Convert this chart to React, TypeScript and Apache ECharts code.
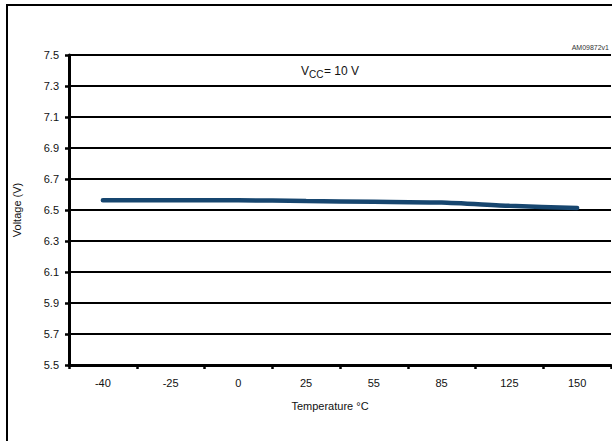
import React, { useEffect, useRef } from "react";
import * as echarts from "echarts";

const categories = ["-40", "-25", "0", "25", "55", "85", "125", "150"];
const voltage = [6.563, 6.563, 6.563, 6.558, 6.553, 6.548, 6.527, 6.513];
const yMin = 5.5;
const yMax = 7.5;
const yStep = 0.2;

const FONT = "'Liberation Sans', Arial, sans-serif";

export default function App() {
  const ref = useRef<HTMLDivElement>(null);
  useEffect(() => {
    if (!ref.current) return;
    const chart = echarts.init(ref.current, null, { renderer: "svg" });
    chart.setOption({
      animation: false,
      backgroundColor: "#fff",
      textStyle: { fontFamily: FONT },
      grid: { left: 69, right: 1, top: 55, bottom: 76, containLabel: false },
      xAxis: {
        type: "category",
        data: categories,
        boundaryGap: true,
        name: "Temperature °C",
        nameLocation: "middle",
        nameGap: 35,
        nameTextStyle: { fontSize: 11, color: "#111", fontFamily: FONT, padding: [0, 20, 0, 0] },
        axisLine: { show: true, lineStyle: { color: "#000", width: 3 } },
        axisTick: { show: true, inside: false, length: 4, lineStyle: { color: "#000", width: 2.5 } },
        axisLabel: { fontSize: 11, color: "#111", margin: 12, fontFamily: FONT },
        splitLine: { show: false },
      },
      yAxis: {
        type: "value",
        min: yMin,
        max: yMax,
        interval: yStep,
        name: "Voltage (V)",
        nameLocation: "middle",
        nameGap: 47,
        nameTextStyle: { fontSize: 11, color: "#111", fontFamily: FONT },
        axisLine: { show: true, lineStyle: { color: "#000", width: 3 } },
        axisTick: { show: true, inside: false, length: 4, lineStyle: { color: "#000", width: 2.5 } },
        axisLabel: {
          fontSize: 11,
          color: "#111",
          margin: 10,
          fontFamily: FONT,
          formatter: (v: number) => v.toFixed(1),
        },
        splitLine: { show: true, lineStyle: { color: "#000", width: 2 } },
      },
      series: [
        {
          type: "line",
          data: voltage,
          symbol: "none",
          smooth: 0.2,
          lineStyle: { color: "#17466f", width: 4.5, cap: "round" },
        },
      ],
      graphic: [
        {
          type: "polyline",
          shape: { points: [[7, 441], [7, 5], [612, 5]] },
          style: { stroke: "#000", lineWidth: 2, fill: "none" },
          silent: true,
        },
        {
          type: "text",
          x: 301,
          y: 71,
          style: { text: "V", font: `12px ${FONT}`, fill: "#111", verticalAlign: "middle", align: "left" },
        },
        {
          type: "text",
          x: 309,
          y: 74.5,
          style: { text: "CC", font: `10px ${FONT}`, fill: "#111", verticalAlign: "middle", align: "left" },
        },
        {
          type: "text",
          x: 324,
          y: 71,
          style: { text: "= 10 V", font: `12px ${FONT}`, fill: "#111", verticalAlign: "middle", align: "left" },
        },
        {
          type: "text",
          x: 609,
          y: 47,
          style: { text: "AM09872v1", font: `7px ${FONT}`, fill: "#333", verticalAlign: "middle", align: "right" },
        },
      ],
    });
    return () => chart.dispose();
  }, []);
  return (
    <div
      ref={ref}
      style={{ position: "fixed", left: 0, top: 0, width: 612, height: 441 }}
    />
  );
}
